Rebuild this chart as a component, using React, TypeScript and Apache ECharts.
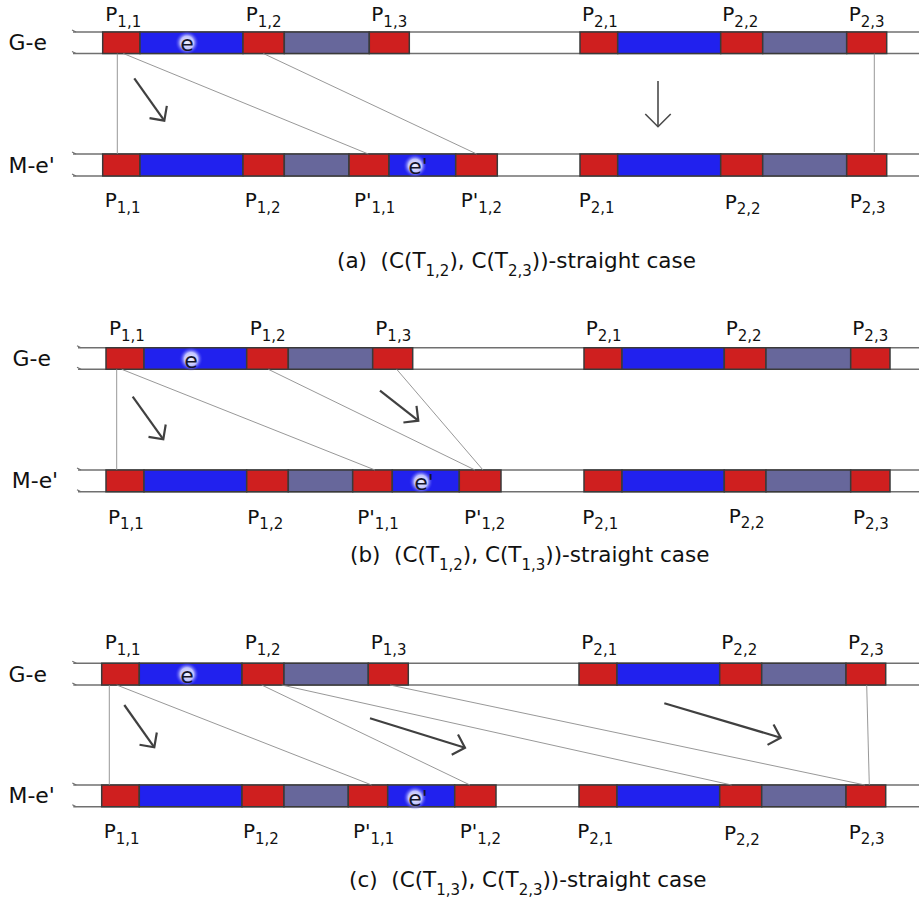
import React, { useEffect, useRef } from 'react';
import * as echarts from 'echarts';

const FONT = '"DejaVu Sans", sans-serif';
const W = 919;
const H = 902;

// ---------- data ----------
const RED = 0, BLUE = 1, GREY = 2;
const SEG_COLORS = ['#cf1f1f', '#2121ee', '#67679b'];

const RAIL_X = [[73, 919], [78, 919], [73.3, 919]];
const G_ROW_Y = [[32, 53.5], [347.7, 369.3], [663.3, 685]];
const M_ROW_Y = [[154, 176], [470, 491.7], [785, 806.7]];

const G_SEGMENTS = [
  [[102.7, 140, RED], [140, 243, BLUE], [243, 284.3, RED], [284.3, 369.3, GREY], [369.3, 409.3, RED],
   [580, 617.7, RED], [617.7, 720.7, BLUE], [720.7, 762.7, RED], [762.7, 846.7, GREY], [846.7, 886.7, RED]],
  [[106, 144, RED], [144, 246.7, BLUE], [246.7, 288.3, RED], [288.3, 372.7, GREY], [372.7, 412.7, RED],
   [584, 622, RED], [622, 724.3, BLUE], [724.3, 766, RED], [766, 850.7, GREY], [850.7, 890, RED]],
  [[101.7, 139.3, RED], [139.3, 242, BLUE], [242, 284, RED], [284, 368.3, GREY], [368.3, 408.3, RED],
   [579, 617, RED], [617, 719.7, BLUE], [719.7, 761.7, RED], [761.7, 846, GREY], [846, 885.7, RED]],
];
const M_SEGMENTS = [
  [[102.7, 140, RED], [140, 243, BLUE], [243, 284.3, RED], [284.3, 349, GREY], [349, 389, RED], [389, 455.7, BLUE], [455.7, 497.3, RED],
   [580, 617.7, RED], [617.7, 720.7, BLUE], [720.7, 762.7, RED], [762.7, 846.7, GREY], [846.7, 886.7, RED]],
  [[106, 144, RED], [144, 246.7, BLUE], [246.7, 288.3, RED], [288.3, 352.7, GREY], [352.7, 392.3, RED], [392.3, 459.3, BLUE], [459.3, 501, RED],
   [584, 622, RED], [622, 724.3, BLUE], [724.3, 766, RED], [766, 850.7, GREY], [850.7, 890, RED]],
  [[101.7, 139.3, RED], [139.3, 242, BLUE], [242, 284, RED], [284, 348.3, GREY], [348.3, 387.7, RED], [387.7, 454.7, BLUE], [454.7, 496, RED],
   [579, 617, RED], [617, 719.7, BLUE], [719.7, 761.7, RED], [761.7, 846, GREY], [846, 885.7, RED]],
];

const CONNECTORS = [
  [[117.3, 53.5, 117.3, 154], [123.3, 53.5, 368.3, 154], [263.3, 53.5, 476.7, 154], [874.3, 53.5, 874.3, 152]],
  [[116.7, 369.3, 116.7, 470], [121.7, 369.3, 375, 470], [268.3, 369.3, 475, 470], [396.7, 369.3, 483, 470]],
  [[109.3, 685, 109.3, 785], [116.7, 685, 371.7, 785], [261.7, 685, 470, 785], [281.7, 685, 731.7, 785],
   [390, 685, 865, 785], [866.7, 685, 869.3, 785]],
];

// arrows: x1, y1, x2, y2, kind (0 bold diagonal, 1 thin vertical)
const ARROWS = [
  [[134.3, 78.3, 164.3, 120.7, 0], [658, 81, 658, 126.7, 1]],
  [[132.7, 396.7, 163.3, 439.3, 0], [380, 390.7, 418.3, 420.7, 0]],
  [[124.3, 705, 154.3, 747.3, 0], [370, 718.3, 465, 747.7, 0], [664.3, 703.3, 780.7, 737.7, 0]],
];

const ROW_NAMES = ['G-e', "M-e'"];
const ROW_NAME_X = [[10, 10], [14, 13.3], [10, 10]];

const E_MARKS = [[187, 42.7], [191, 359], [187, 674.3]];
const E_PRIME_MARKS = [[415, 165.7], [421, 481.7], [415, 797.7]];

const TOP_LABELS = [['P', '1,1'], ['P', '1,2'], ['P', '1,3'], ['P', '2,1'], ['P', '2,2'], ['P', '2,3']];
const BOTTOM_LABELS = [['P', '1,1'], ['P', '1,2'], ["P'", '1,1'], ["P'", '1,2'], ['P', '2,1'], ['P', '2,2'], ['P', '2,3']];
const TOP_LABEL_X = [
  [107.3, 247.7, 373.3, 584, 724.3, 850.7],
  [111, 251.7, 377.3, 587.7, 727.7, 854.3],
  [106.7, 246.7, 372.7, 583.3, 723.3, 850],
];
const BOTTOM_LABEL_X = [
  [106.7, 246.7, 356, 462.7, 580.7, 726.7, 851.7],
  [110, 249.3, 359.3, 466, 584.3, 730.7, 855],
  [105.7, 245, 355, 461.7, 579.3, 726, 850.7],
];
const TOP_LABEL_BASE = [20.7, 335, 649];
const BOTTOM_LABEL_BASE = [
  [206.7, 206.7, 206.7, 206.7, 206.7, 208.5, 207.5],
  [523.5, 523.5, 523.5, 523.5, 523.5, 522.5, 523.5],
  [838, 838, 838, 838, 838, 839.5, 838.5],
];

const CAPTIONS = [
  [['(a)  (C(T', 0], ['1,2', 1], ['), C(T', 0], ['2,3', 1], ['))-straight case', 0]],
  [['(b)  (C(T', 0], ['1,2', 1], ['), C(T', 0], ['1,3', 1], ['))-straight case', 0]],
  [['(c)  (C(T', 0], ['1,3', 1], ['), C(T', 0], ['2,3', 1], ['))-straight case', 0]],
];
const CAPTION_X = [337, 350, 349];
const CAPTION_BASE = [268, 562, 887];

// ---------- helpers ----------
let measureCtx: CanvasRenderingContext2D | null = null;
function textWidth(t: string, size: number): number {
  if (!measureCtx) measureCtx = document.createElement('canvas').getContext('2d');
  measureCtx!.font = `${size}px "DejaVu Sans"`;
  return measureCtx!.measureText(t).width;
}

const CENTRAL = 0.346; // distance from alphabetic baseline to central baseline, in em

type Piece = { text: string; size: number; dy: number };
type TextRun = { x: number; base: number; sx: number; pieces: Piece[] };

const LABEL_FS = 20, LABEL_SUB_FS = 15, LABEL_SUB_DY = 6, LABEL_SX = 1.0;
const CAP_FS = 21.5, CAP_SUB_FS = 15, CAP_SUB_DY = 8.5, CAP_SX = 1.0;
const ROW_FS = 20.5, ROW_SX = 1.07;
const E_FS = 22;

function buildRuns(): TextRun[] {
  const runs: TextRun[] = [];
  for (let p = 0; p < 3; p++) {
    TOP_LABELS.forEach((l, i) => runs.push({
      x: TOP_LABEL_X[p][i] - 2, base: TOP_LABEL_BASE[p], sx: LABEL_SX,
      pieces: [{ text: l[0], size: LABEL_FS, dy: 0 }, { text: l[1], size: LABEL_SUB_FS, dy: LABEL_SUB_DY }],
    }));
    BOTTOM_LABELS.forEach((l, i) => runs.push({
      x: BOTTOM_LABEL_X[p][i] - 2, base: BOTTOM_LABEL_BASE[p][i], sx: LABEL_SX,
      pieces: [{ text: l[0], size: LABEL_FS, dy: 0 }, { text: l[1], size: LABEL_SUB_FS, dy: LABEL_SUB_DY }],
    }));
    ROW_NAMES.forEach((n, i) => {
      const row = i === 0 ? G_ROW_Y[p] : M_ROW_Y[p];
      const cy = (row[0] + row[1]) / 2;
      runs.push({
        x: ROW_NAME_X[p][i] - 1.5, base: cy + 0.729 * ROW_FS / 2, sx: ROW_SX,
        pieces: [{ text: n, size: ROW_FS, dy: 0 }],
      });
    });
    runs.push({
      x: CAPTION_X[p], base: CAPTION_BASE[p], sx: CAP_SX,
      pieces: CAPTIONS[p].map((c) => ({
        text: c[0] as string,
        size: c[1] ? CAP_SUB_FS : CAP_FS,
        dy: c[1] ? CAP_SUB_DY : 0,
      })),
    });
  }
  return runs;
}

export default function App() {
  const ref = useRef<HTMLDivElement>(null);

  useEffect(() => {
    document.body.style.margin = '0';
    const chart = echarts.init(ref.current!, null, { renderer: 'svg' });

    const rails: number[][] = [];
    const segs: number[][] = [];
    const conns: number[][] = [];
    const arrows: number[][] = [];
    const marks: number[][] = [];
    for (let p = 0; p < 3; p++) {
      [G_ROW_Y[p], M_ROW_Y[p]].forEach((row) => {
        rails.push([RAIL_X[p][0], RAIL_X[p][1], row[0]]);
        rails.push([RAIL_X[p][0], RAIL_X[p][1], row[1]]);
      });
      G_SEGMENTS[p].forEach((s) => segs.push([s[0], s[1], G_ROW_Y[p][0], G_ROW_Y[p][1], s[2]]));
      M_SEGMENTS[p].forEach((s) => segs.push([s[0], s[1], M_ROW_Y[p][0], M_ROW_Y[p][1], s[2]]));
      CONNECTORS[p].forEach((c) => conns.push(c));
      ARROWS[p].forEach((a) => arrows.push(a));
      marks.push([E_MARKS[p][0], E_MARKS[p][1], 0]);
      marks.push([E_PRIME_MARKS[p][0], E_PRIME_MARKS[p][1], 1]);
    }
    const runs = buildRuns();
    const runData = runs.map((r) => [r.x, r.base]);

    const option: any = {
      animation: false,
      grid: { left: 0, right: 0, top: 0, bottom: 0 },
      xAxis: { type: 'value', min: 0, max: W, show: false },
      yAxis: { type: 'value', min: 0, max: H, inverse: true, show: false },
      series: [
        {
          type: 'custom', name: 'rails', data: rails, silent: true, z: 1,
          renderItem: (_: any, api: any) => {
            const a = api.coord([api.value(0), api.value(2)]);
            const b = api.coord([api.value(1), api.value(2)]);
            return {
              type: 'group',
              children: [
                { type: 'line', shape: { x1: a[0], y1: a[1], x2: b[0], y2: b[1] }, style: { stroke: '#707070', lineWidth: 1.6 } },
                { type: 'line', shape: { x1: a[0] - 1, y1: a[1] - 2, x2: a[0] + 3, y2: a[1] }, style: { stroke: '#707070', lineWidth: 1.2 } },
              ],
            };
          },
        },
        {
          type: 'custom', name: 'segments', data: segs, silent: true, z: 2,
          renderItem: (_: any, api: any) => {
            const a = api.coord([api.value(0), api.value(2)]);
            const b = api.coord([api.value(1), api.value(3)]);
            return {
              type: 'rect',
              shape: { x: a[0], y: a[1], width: b[0] - a[0], height: b[1] - a[1] },
              style: { fill: SEG_COLORS[api.value(4)], stroke: '#3a3a3a', lineWidth: 1.5 },
            };
          },
        },
        {
          type: 'custom', name: 'connectors', data: conns, silent: true, z: 3,
          renderItem: (_: any, api: any) => {
            const a = api.coord([api.value(0), api.value(1)]);
            const b = api.coord([api.value(2), api.value(3)]);
            return {
              type: 'line', shape: { x1: a[0], y1: a[1], x2: b[0], y2: b[1] },
              style: { stroke: '#8c8c8c', lineWidth: 0.9 },
            };
          },
        },
        {
          type: 'custom', name: 'arrows', data: arrows, silent: true, z: 4,
          renderItem: (_: any, api: any) => {
            const a = api.coord([api.value(0), api.value(1)]);
            const b = api.coord([api.value(2), api.value(3)]);
            const kind = api.value(4);
            const len = kind === 1 ? 18 : 15;
            const ang = Math.atan2(a[1] - b[1], a[0] - b[0]);
            const h = Math.PI / 4;
            const p1 = [b[0] + len * Math.cos(ang + h), b[1] + len * Math.sin(ang + h)];
            const p2 = [b[0] + len * Math.cos(ang - h), b[1] + len * Math.sin(ang - h)];
            const st = kind === 1
              ? { stroke: '#4a4a4a', lineWidth: 1.6, fill: 'none' }
              : { stroke: '#404040', lineWidth: 2.2, fill: 'none' };
            return {
              type: 'group',
              children: [
                { type: 'line', shape: { x1: a[0], y1: a[1], x2: b[0], y2: b[1] }, style: st },
                { type: 'polyline', shape: { points: [p1, b, p2] }, style: st },
              ],
            };
          },
        },
        {
          type: 'custom', name: 'edgeMarks', data: marks, silent: true, z: 5,
          renderItem: (_: any, api: any) => {
            const c = api.coord([api.value(0), api.value(1)]);
            const prime = api.value(2) === 1;
            return {
              type: 'group',
              children: [
                {
                  type: 'circle', shape: { cx: c[0], cy: c[1], r: 12 },
                  style: {
                    fill: new echarts.graphic.RadialGradient(0.5, 0.5, 0.5, [
                      { offset: 0, color: 'rgba(240,240,255,1)' },
                      { offset: 0.55, color: 'rgba(200,202,255,0.95)' },
                      { offset: 1, color: 'rgba(40,40,240,0)' },
                    ]),
                  },
                },
                {
                  type: 'text', x: c[0] - textWidth('e', E_FS) / 2, y: c[1] + 1,
                  style: { text: prime ? "e'" : 'e', fontSize: E_FS, fontFamily: FONT, fill: '#14142a', align: 'left', verticalAlign: 'middle' },
                },
              ],
            };
          },
        },
        {
          type: 'custom', name: 'labels', data: runData, silent: true, z: 6,
          renderItem: (params: any, api: any) => {
            const run = runs[params.dataIndex];
            const o = api.coord([api.value(0), api.value(1)]);
            let cx = o[0];
            const children: any[] = [];
            run.pieces.forEach((pc) => {
              children.push({
                type: 'text', x: cx, y: o[1] + pc.dy - CENTRAL * pc.size, scaleX: run.sx,
                style: { text: pc.text, fontSize: pc.size, fontFamily: FONT, fill: '#111', align: 'left', verticalAlign: 'middle' },
              });
              cx += textWidth(pc.text, pc.size) * run.sx;
            });
            return { type: 'group', children };
          },
        },
      ],
    };
    chart.setOption(option);
    return () => chart.dispose();
  }, []);

  return <div ref={ref} style={{ width: W, height: H, background: '#fff' }} />;
}
